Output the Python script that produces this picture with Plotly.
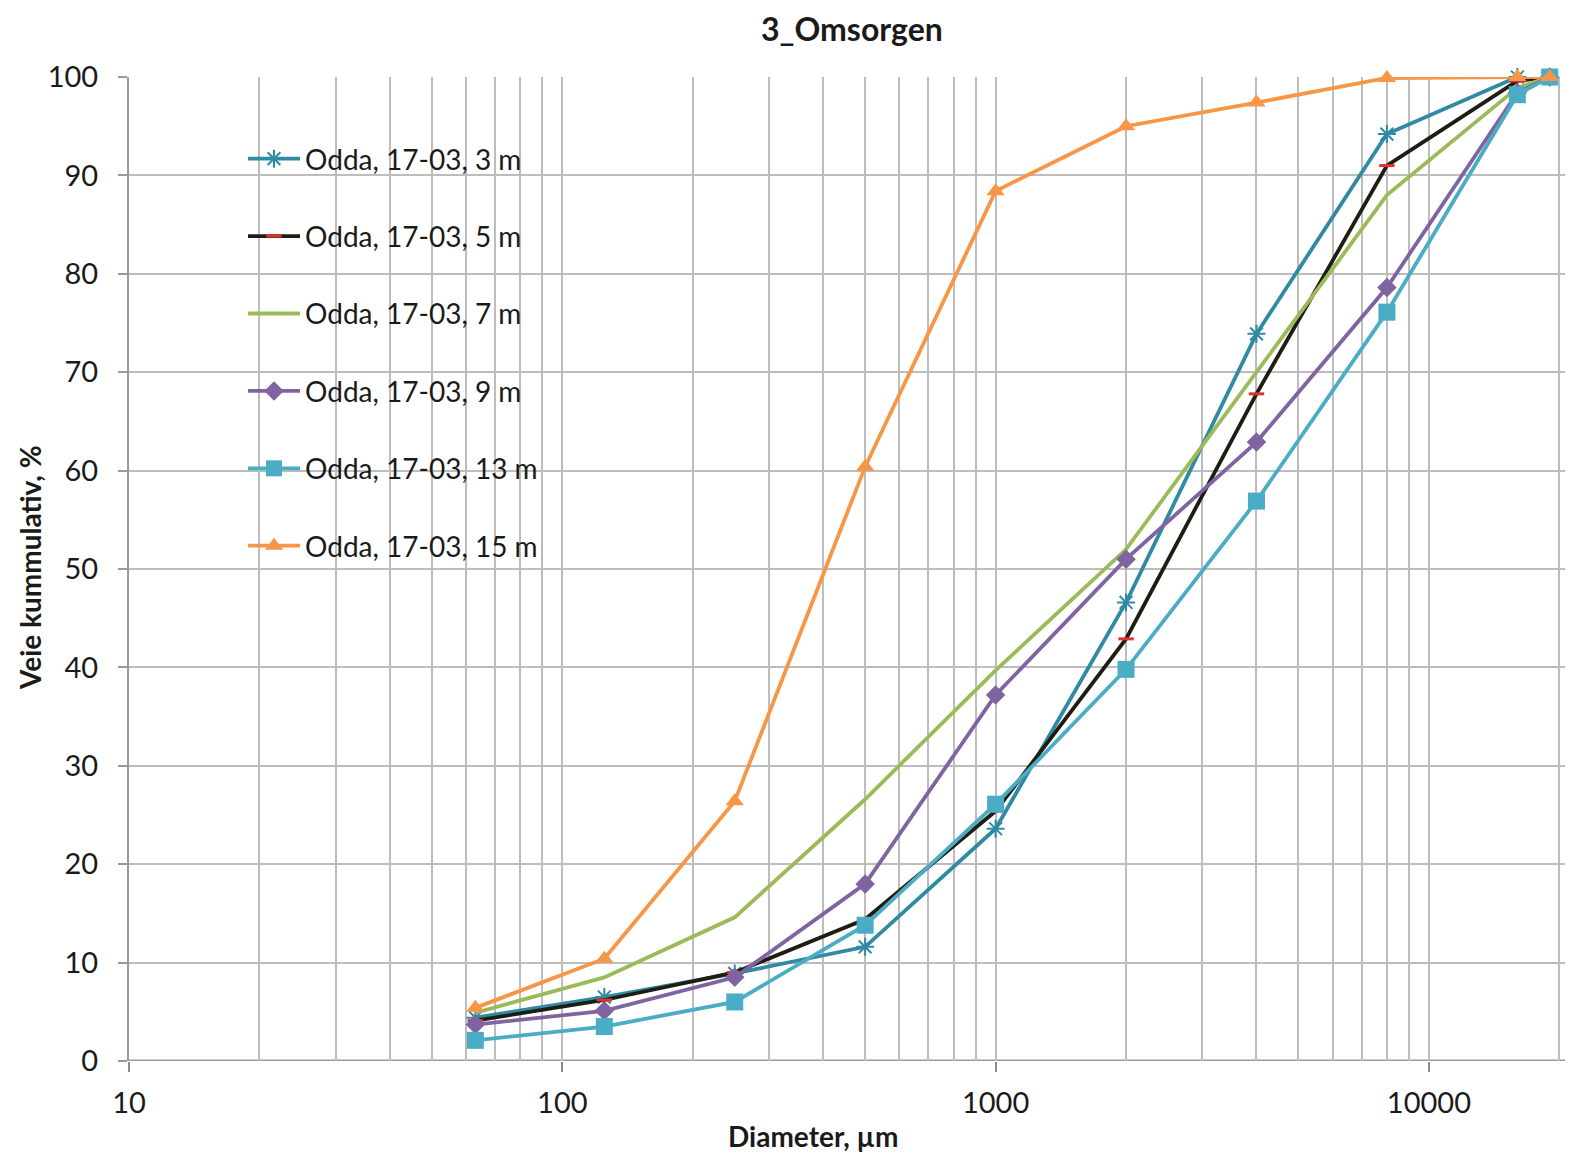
import plotly.graph_objects as go

diameter = [63, 125, 250, 500, 1000, 2000, 4000, 8000, 16000, 19000]

series_names = ["Odda, 17-03, 3 m", "Odda, 17-03, 5 m", "Odda, 17-03, 7 m",
                "Odda, 17-03, 9 m", "Odda, 17-03, 13 m", "Odda, 17-03, 15 m"]

s3m = [4.4, 6.5, 8.9, 11.6, 23.6, 46.6, 73.9, 94.2, 100.0, 100.0]
s5m = [4.1, 6.2, 9.0, 14.4, 25.4, 42.9, 67.8, 91.0, 99.6, 100.0]
s7m = [4.9, 8.5, 14.6, 26.6, 39.7, 52.0, 70.0, 88.0, 98.9, 100.0]
s9m = [3.7, 5.1, 8.5, 18.0, 37.2, 51.0, 62.9, 78.6, 98.4, 100.0]
s13m = [2.1, 3.5, 6.0, 13.8, 26.1, 39.8, 56.9, 76.1, 98.2, 100.0]
s15m = [5.4, 10.4, 26.4, 60.4, 88.4, 95.0, 97.4, 99.9, 100.0, 100.0]

x_ticks = [10, 100, 1000, 10000]
y_ticks = [0, 10, 20, 30, 40, 50, 60, 70, 80, 90, 100]

FONT = "Lato"
TXT = "#1a1a1a"

styles = [
    dict(line="#2f8aa3", symbol="asterisk-open", size=15, mcolor="#2f8aa3", mline=dict(color="#2f8aa3", width=2)),
    dict(line="#1f1d12", symbol="line-ew-open", size=11, mcolor="#e0312a", mline=dict(color="#e0312a", width=3)),
    dict(line="#9bbb59", symbol=None),
    dict(line="#8064a2", symbol="diamond", size=15, mcolor="#8064a2", mline=dict(width=0)),
    dict(line="#4bacc6", symbol="square", size=17, mcolor="#4bacc6", mline=dict(width=0)),
    dict(line="#f79646", symbol="triangle-up", size=16, mcolor="#f79646", mline=dict(width=0)),
]

fig = go.Figure()
for name, ys, st in zip(series_names, [s3m, s5m, s7m, s9m, s13m, s15m], styles):
    kw = dict(x=diameter, y=ys, name=name, legendgroup=name,
              line=dict(color=st["line"], width=3.8), cliponaxis=False)
    if st["symbol"] is None:
        kw["mode"] = "lines"
    else:
        kw["mode"] = "lines+markers"
        kw["marker"] = dict(symbol=st["symbol"], size=st["size"], color=st["mcolor"],
                            line=st["mline"])
    fig.add_trace(go.Scatter(**kw))

# page offset of the plot div (body margin)
OFF = 8
PAGE_W, PAGE_H = 1573, 1157
PL, PT, PB = 129, 77, 1061          # plot area in page coordinates
W, H = PAGE_W - OFF, PAGE_H - OFF
L, T = PL - OFF, PT - OFF
B = H - (PB - OFF)
plot_w = W - L
plot_h = H - T - B
dec = 433.3
xr = [1, 1 + plot_w / dec]


def px(xp):
    return (xp - PL) / plot_w


def py(yp):
    return (PB - yp) / plot_h


grid = "#bdbdbd"
fig.update_layout(
    width=W, height=H,
    margin=dict(l=L, r=0, t=T, b=B),
    paper_bgcolor="white", plot_bgcolor="white",
    font=dict(family=FONT, size=24, color=TXT),
    showlegend=True,
    legend=dict(x=px(243), y=py(134), xanchor="left", yanchor="top",
                bgcolor="rgba(0,0,0,0)", borderwidth=0,
                font=dict(family=FONT, size=28, color=TXT),
                tracegroupgap=38, itemwidth=52),
    xaxis=dict(type="log", range=xr, tickvals=x_ticks, ticktext=[str(v) for v in x_ticks],
               showgrid=True, gridcolor=grid, gridwidth=2,
               minor=dict(showgrid=True, gridcolor=grid, gridwidth=2, dtick="D1", ticks=""),
               showline=False, zeroline=False,
               ticks="outside", ticklen=10, tickcolor="#8c8c8c", tickwidth=2,
               ticklabelstandoff=6,
               tickfont=dict(family=FONT, size=29, color=TXT)),
    yaxis=dict(range=[0, 100], tickvals=y_ticks, showgrid=True, gridcolor=grid, gridwidth=2,
               showline=True, linecolor="#9a9a9a", linewidth=2, zeroline=False,
               ticks="outside", ticklen=9, tickcolor="#9a9a9a", tickwidth=2,
               ticklabelstandoff=14,
               tickfont=dict(family=FONT, size=29, color=TXT)),
)

# x axis base line at y=0
fig.add_shape(type="line", xref="paper", yref="y", x0=0, x1=1, y0=0, y1=0,
              line=dict(color="#9a9a9a", width=3), layer="between")

# white legend background box (covers gridlines)
fig.add_shape(type="rect", xref="paper", yref="paper",
              x0=px(212), x1=px(570), y0=py(582), y1=py(119),
              fillcolor="white", line=dict(width=0), layer="between")

fig.add_annotation(text="<b>3_Omsorgen</b>", xref="paper", yref="paper",
                   x=px(852), y=py(29), showarrow=False,
                   font=dict(family=FONT, size=32, color=TXT),
                   xanchor="center", yanchor="middle")
fig.add_annotation(text="<b>Diameter, µm</b>", xref="paper", yref="paper",
                   x=px(813), y=py(1136), showarrow=False,
                   font=dict(family=FONT, size=28, color=TXT),
                   xanchor="center", yanchor="middle")
fig.add_annotation(text="<b>Veie kummulativ, %</b>", xref="paper", yref="paper",
                   x=px(30), y=py(568), showarrow=False, textangle=-90,
                   font=dict(family=FONT, size=28, color=TXT),
                   xanchor="center", yanchor="middle")

fig.write_html("out.html")
